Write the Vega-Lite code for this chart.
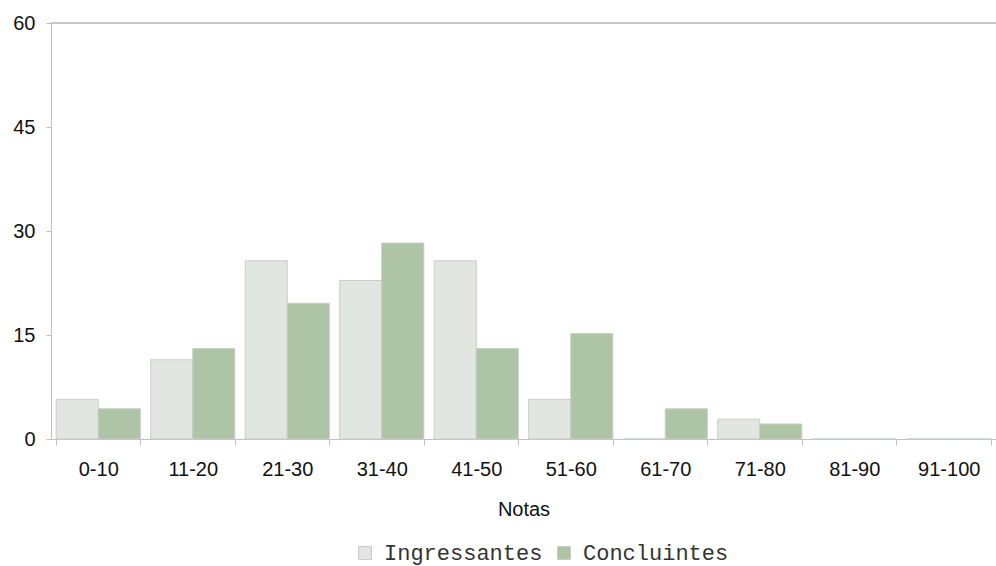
{
  "$schema": "https://vega.github.io/schema/vega-lite/v6.json",
  "width": 945,
  "height": 416,
  "autosize": {"type": "none"},
  "padding": {"left": 51, "top": 23, "right": 0, "bottom": 127},
  "background": "white",
  "config": {"view": {"stroke": null}, "font": "Liberation Sans"},
  "data": {"values": [
    {"faixa": "0-10", "grupo": "Ingressantes", "valor": 5.71},
    {"faixa": "0-10", "grupo": "Concluintes", "valor": 4.35},
    {"faixa": "11-20", "grupo": "Ingressantes", "valor": 11.43},
    {"faixa": "11-20", "grupo": "Concluintes", "valor": 13.04},
    {"faixa": "21-30", "grupo": "Ingressantes", "valor": 25.71},
    {"faixa": "21-30", "grupo": "Concluintes", "valor": 19.57},
    {"faixa": "31-40", "grupo": "Ingressantes", "valor": 22.86},
    {"faixa": "31-40", "grupo": "Concluintes", "valor": 28.26},
    {"faixa": "41-50", "grupo": "Ingressantes", "valor": 25.71},
    {"faixa": "41-50", "grupo": "Concluintes", "valor": 13.04},
    {"faixa": "51-60", "grupo": "Ingressantes", "valor": 5.71},
    {"faixa": "51-60", "grupo": "Concluintes", "valor": 15.22},
    {"faixa": "61-70", "grupo": "Ingressantes", "valor": 0},
    {"faixa": "61-70", "grupo": "Concluintes", "valor": 4.35},
    {"faixa": "71-80", "grupo": "Ingressantes", "valor": 2.86},
    {"faixa": "71-80", "grupo": "Concluintes", "valor": 2.17},
    {"faixa": "81-90", "grupo": "Ingressantes", "valor": 0},
    {"faixa": "81-90", "grupo": "Concluintes", "valor": 0},
    {"faixa": "91-100", "grupo": "Ingressantes", "valor": 0},
    {"faixa": "91-100", "grupo": "Concluintes", "valor": 0}
  ]},
  "layer": [
    {
      "mark": {"type": "bar", "stroke": "#c8cec7", "strokeWidth": 1},
      "encoding": {
        "x": {
          "field": "faixa", "type": "nominal",
          "sort": ["0-10","11-20","21-30","31-40","41-50","51-60","61-70","71-80","81-90","91-100"],
          "scale": {"paddingInner": 0.11, "paddingOuter": 0.055},
          "axis": {
            "title": "Notas", "labelAngle": 0, "tickBand": "extent",
            "domainColor": "#c0c0c0", "tickColor": "#c0c0c0", "tickSize": 6,
            "labelFontSize": 20, "labelColor": "#111", "labelPadding": 14,
            "titleFontSize": 20, "titleFontWeight": "normal", "titleColor": "#111", "titlePadding": 20
          }
        },
        "xOffset": {"field": "grupo", "type": "nominal", "sort": ["Ingressantes", "Concluintes"]},
        "y": {
          "field": "valor", "type": "quantitative",
          "scale": {"domain": [0, 60]},
          "axis": {
            "title": null, "values": [0, 15, 30, 45, 60], "grid": false,
            "domainColor": "#c0c0c0", "tickColor": "#c0c0c0", "tickSize": 5,
            "labelFontSize": 20, "labelColor": "#111", "labelPadding": 11
          }
        },
        "color": {
          "field": "grupo", "type": "nominal",
          "sort": ["Ingressantes", "Concluintes"],
          "scale": {"domain": ["Ingressantes", "Concluintes"], "range": ["#e1e6e0", "#adc4a5"]},
          "legend": {
            "title": null, "orient": "none", "direction": "horizontal",
            "legendX": 303, "legendY": 519,
            "symbolType": "square", "symbolSize": 169, "symbolStrokeWidth": 1, "symbolStrokeColor": "#c8cec7",
            "labelFont": "Liberation Mono", "labelFontSize": 22, "labelColor": "#333",
            "labelOffset": 8, "columnPadding": 10
          }
        }
      }
    },
    {
      "mark": {"type": "rule", "color": "#c8c8c8", "strokeWidth": 1.5},
      "encoding": {"y": {"datum": 60}}
    }
  ]
}
